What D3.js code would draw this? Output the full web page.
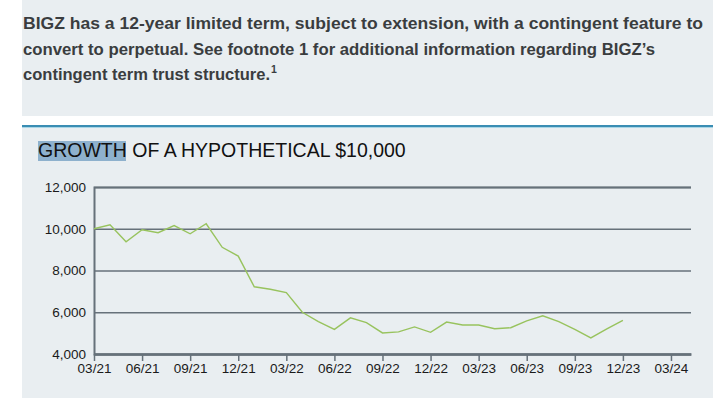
<!DOCTYPE html>
<html>
<head>
<meta charset="utf-8">
<script src="https://cdn.jsdelivr.net/npm/d3@7"></script>
<style>
  body { margin: 0; background: #fff; }
  svg { display: block; }
</style>
</head>
<body>
<script>
// Growth of $10,000, month-end values starting 03/21
const growthValues = [
  10000, 10190, 9380, 9950, 9810, 10150, 9760, 10240, 9110, 8690,
  7220, 7100, 6940, 6000, 5550, 5180, 5730, 5500, 5010, 5060,
  5300, 5040, 5530, 5390, 5390, 5210, 5260, 5590, 5830, 5550,
  5180, 4770, 5200, 5610
];
const quarterLabels = ["03/21", "06/21", "09/21", "12/21", "03/22", "06/22", "09/22",
  "12/22", "03/23", "06/23", "09/23", "12/23", "03/24"];
const yTicks = [4000, 6000, 8000, 10000, 12000];
const introLines = [
  "BIGZ has a 12-year limited term, subject to extension, with a contingent feature to",
  "convert to perpetual. See footnote 1 for additional information regarding BIGZ\u2019s",
  "contingent term trust structure."
];
const title = ["GROWTH", " OF A HYPOTHETICAL $10,000"];

const width = 713;
const height = 398;
const panelBg = "#e9eef1";

const svg = d3.select("body")
  .append("svg")
  .attr("width", width)
  .attr("height", height);

// Intro box
svg.append("rect")
  .attr("x", 22).attr("y", 0)
  .attr("width", width - 22).attr("height", 116)
  .attr("fill", panelBg);

const introLens = [680, 632, 247];
svg.append("g")
  .selectAll("text")
  .data(introLines)
  .join("text")
  .attr("x", 23)
  .attr("y", (d, i) => 29 + i * 25.5)
  .attr("textLength", (d, i) => introLens[i])
  .attr("lengthAdjust", "spacingAndGlyphs")
  .attr("font-family", "'Liberation Sans Narrow', 'Liberation Sans', Arial, sans-serif")
  .attr("font-weight", "bold")
  .attr("font-size", 16.5)
  .attr("fill", "#3a3d3f")
  .text(d => d);

svg.append("text")
  .attr("x", 271)
  .attr("y", 73)
  .attr("font-family", "'Liberation Sans', Arial, sans-serif")
  .attr("font-weight", "bold")
  .attr("font-size", 10.5)
  .attr("fill", "#3a3d3f")
  .text("1");

// Chart panel
svg.append("line")
  .attr("x1", 22).attr("x2", width)
  .attr("y1", 126).attr("y2", 126)
  .attr("stroke", "#3a8db3")
  .attr("stroke-width", 2);
svg.append("line")
  .attr("x1", 22).attr("x2", width)
  .attr("y1", 127.5).attr("y2", 127.5)
  .attr("stroke", "#a9d6e6")
  .attr("stroke-width", 1);
svg.append("rect")
  .attr("x", 22).attr("y", 128)
  .attr("width", width - 22).attr("height", height - 128)
  .attr("fill", panelBg);

// Title with highlighted first word
svg.append("rect")
  .attr("x", 38).attr("y", 141)
  .attr("width", 88).attr("height", 20)
  .attr("fill", "#8eb1cd");
const titleText = svg.append("text")
  .attr("x", 38)
  .attr("y", 157)
  .attr("font-family", "'Liberation Sans', Arial, sans-serif")
  .attr("font-size", 19.5)
  .attr("fill", "#111")
  .text(title.join(""));
// keep the title close to its reference width without squeezing glyphs
const tw = titleText.node().getComputedTextLength();
if (Math.abs(tw - 369) > 6) {
  titleText.attr("textLength", 369).attr("lengthAdjust", "spacing");
}

// Scales
const x = d3.scaleLinear()
  .domain([0, 37.25])
  .range([94, 691]);

const y = d3.scaleLinear()
  .domain([4000, 12000])
  .range([354, 187]);

const axisColor = "#66717a";

// Gridlines + y labels
const yAxis = svg.append("g")
  .attr("transform", `translate(${x(0)},0)`)
  .call(d3.axisLeft(y)
    .tickValues(yTicks)
    .tickSize(-(x.range()[1] - x.range()[0]))
    .tickPadding(8)
    .tickFormat(d3.format(",")));
yAxis.select(".domain")
  .attr("stroke", axisColor)
  .attr("stroke-width", 2);
yAxis.selectAll(".tick line")
  .attr("stroke", axisColor)
  .attr("stroke-width", 1.4);
yAxis.selectAll(".tick text")
  .attr("font-family", "'Liberation Sans', Arial, sans-serif")
  .attr("font-size", 13.5)
  .attr("fill", "#1a1a1a");

// X axis
const xAxis = svg.append("g")
  .attr("transform", `translate(0,${y(4000)})`)
  .call(d3.axisBottom(x)
    .tickValues(quarterLabels.map((d, i) => i * 3))
    .tickSizeInner(7)
    .tickSizeOuter(0)
    .tickPadding(2)
    .tickFormat((d, i) => quarterLabels[i]));
xAxis.select(".domain")
  .attr("stroke", axisColor)
  .attr("stroke-width", 2.5);
xAxis.selectAll(".tick line")
  .attr("stroke", axisColor)
  .attr("stroke-width", 1.5);
xAxis.selectAll(".tick text")
  .attr("font-family", "'Liberation Sans', Arial, sans-serif")
  .attr("font-size", 13.5)
  .attr("fill", "#1a1a1a");

// Growth line
const line = d3.line()
  .x((d, i) => x(i))
  .y(d => y(d));

svg.append("path")
  .datum(growthValues)
  .attr("d", line)
  .attr("fill", "none")
  .attr("stroke", "#98c35e")
  .attr("stroke-width", 1.4);
</script>
</body>
</html>
